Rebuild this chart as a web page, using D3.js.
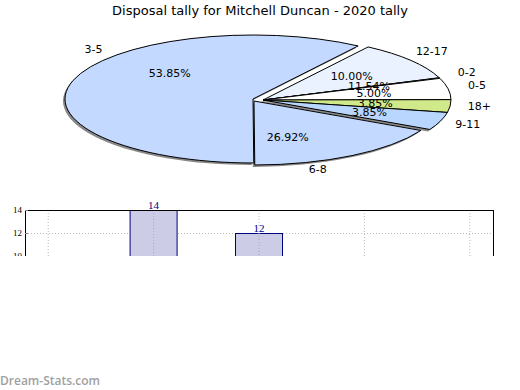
<!DOCTYPE html>
<html><head><meta charset="utf-8">
<script src="https://cdn.jsdelivr.net/npm/d3@7/dist/d3.min.js"></script>
<style>body{margin:0;background:#fff}svg{display:block}</style>
</head><body>
<script>
// ---- data ----
const chartTitle = "Disposal tally for Mitchell Duncan - 2020 tally";
const sliceLabels = ["12-17", "0-2", "0-5", "18+", "9-11", "6-8", "3-5"];
const sliceShares = [9.9, 0.15, 5.4, 3.2, 4.5, 17.3, 59.45];
const pctLabels = ["10.00%", "11.54%", "5.00%", "3.85%", "3.85%", "26.92%", "53.85%"];
const barCategories = ["A", "B", "C", "D", "E"];
const barValues = [null, 14, 12, null, null];
const yTicks = [10, 12, 14];
const watermark = "Dream-Stats.com";

// ---- styles ----
const sliceColors = ["#eaf1ff", "#ffffff", "#ffffff", "#cfe98b", "#b9d6ff", "#c3d9ff", "#c3d9ff"];
const sliceOffset = [[10, 1], [10, 1], [10, 1], [10, 1], [10, 1], [1, 2], [0, 0]];
const labelShift = [0, 0, 0, 0, 0, 14, 25.6];
const labelRadius = [1.21, 1.21, 1.21, 1.21, 1.21, 1.15, 1.15];

const W = 520, H = 390;
const svg = d3.select("body").append("svg").attr("width", W).attr("height", H);

svg.append("text").attr("x", 260).attr("y", 15).attr("text-anchor", "middle")
  .attr("font-family", "DejaVu Sans").attr("font-size", 13).attr("fill", "#000").text(chartTitle);

// ---- pie (elliptical) ----
const cx = 253, cy = 99, rx = 188, ry = 64, k = ry / rx;
const a0 = 34 * Math.PI / 180;
const pie = d3.pie().sort(null).value(d => d).startAngle(a0).endAngle(a0 + 2 * Math.PI);
const arcs = pie(sliceShares);
const arc = d3.arc().innerRadius(0).outerRadius(rx);
const mid = d => (d.startAngle + d.endAngle) / 2;

const gS = svg.append("g").attr("transform", `translate(${cx - 2},${cy + 2}) scale(1,${k})`);
gS.selectAll("path").data(arcs).join("path")
  .attr("transform", (d, i) => `translate(${sliceOffset[i][0]},${sliceOffset[i][1] / k})`)
  .attr("d", arc).attr("fill", "#888");

const gP = svg.append("g").attr("transform", `translate(${cx},${cy}) scale(1,${k})`);
gP.selectAll("path").data(arcs).join("path")
  .attr("transform", (d, i) => `translate(${sliceOffset[i][0]},${sliceOffset[i][1] / k})`)
  .attr("d", arc).attr("fill", (d, i) => sliceColors[i])
  .attr("stroke", "#000").attr("stroke-width", 1).attr("vector-effect", "non-scaling-stroke")
  .attr("stroke-linejoin", "round");

const la = (d, i) => mid(d) + labelShift[i] * Math.PI / 180;
svg.append("g").selectAll("text").data(arcs).join("text")
  .attr("x", (d, i) => cx + rx * labelRadius[i] * Math.sin(la(d, i)))
  .attr("y", (d, i) => cy - ry * labelRadius[i] * Math.cos(la(d, i)))
  .attr("text-anchor", "middle").attr("dominant-baseline", "central")
  .attr("font-family", "DejaVu Sans").attr("font-size", 11).attr("fill", "#000")
  .text((d, i) => sliceLabels[i]);
svg.append("g").selectAll("text").data(arcs).join("text")
  .attr("x", (d, i) => cx + sliceOffset[i][0] + rx * 0.6 * Math.sin(la(d, i)))
  .attr("y", (d, i) => cy + sliceOffset[i][1] - ry * 0.6 * Math.cos(la(d, i)))
  .attr("text-anchor", "middle").attr("dominant-baseline", "central")
  .attr("font-family", "DejaVu Sans").attr("font-size", 11).attr("fill", "#000")
  .text((d, i) => pctLabels[i]);

// ---- bar chart (cropped) ----
svg.append("clipPath").attr("id", "cut").append("rect").attr("x", 0).attr("y", 190).attr("width", W).attr("height", 66);
const gB = svg.append("g").attr("clip-path", "url(#cut)");
const x = d3.scalePoint().domain(barCategories).range([25, 493]).padding(0.22);
const y = d3.scaleLinear().domain([0, 14]).range([371, 210]);

gB.append("g").selectAll("line").data(barCategories).join("line")
  .attr("x1", d => x(d)).attr("x2", d => x(d)).attr("y1", y(14)).attr("y2", y(0))
  .attr("stroke", "#bbb").attr("stroke-dasharray", "1,2");
gB.append("g").selectAll("line").data(yTicks).join("line")
  .attr("x1", 25).attr("x2", 493).attr("y1", d => y(d) + 0.5).attr("y2", d => y(d) + 0.5)
  .attr("stroke", "#bbb").attr("stroke-dasharray", "1,2");

const bars = barCategories.map((c, i) => ({ c, v: barValues[i] })).filter(d => d.v != null);
gB.append("g").selectAll("rect").data(bars).join("rect")
  .attr("x", d => x(d.c) - 23.5).attr("width", 47)
  .attr("y", d => y(d.v) + 0.5).attr("height", d => y(0) - y(d.v))
  .attr("fill", "#cccce6").attr("stroke", "#000080");
gB.append("g").selectAll("line").data(bars).join("line")
  .attr("x1", d => x(d.c)).attr("x2", d => x(d.c)).attr("y1", d => y(d.v)).attr("y2", y(0))
  .attr("stroke", "#aaa").attr("stroke-dasharray", "1,2");

gB.append("rect").attr("x", 25.5).attr("y", 210.5).attr("width", 468).attr("height", 161)
  .attr("fill", "none").attr("stroke", "#000");

gB.append("g").selectAll("line").data(yTicks).join("line")
  .attr("x1", 25).attr("x2", 28).attr("y1", d => y(d) + 0.5).attr("y2", d => y(d) + 0.5)
  .attr("stroke", "#888");
gB.append("g").selectAll("text").data(yTicks).join("text")
  .attr("x", 22).attr("y", d => y(d)).attr("text-anchor", "end").attr("dominant-baseline", "central")
  .attr("font-family", "Liberation Serif").attr("font-size", 9).attr("fill", "#000").text(d => d);

svg.append("g").selectAll("text").data(bars).join("text")
  .attr("x", d => x(d.c)).attr("y", d => y(d.v) - 1.5).attr("text-anchor", "middle")
  .attr("font-family", "Liberation Serif").attr("font-size", 11).attr("fill", "#000080").text(d => d.v);

svg.append("text").attr("x", 0).attr("y", 385)
  .attr("font-family", "Open Sans").attr("font-weight", 600).attr("font-size", 12)
  .attr("fill", "#a0a0a0").text(watermark);
</script>
</body></html>
